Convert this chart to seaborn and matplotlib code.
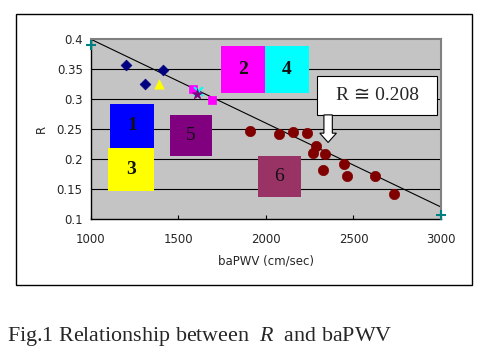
import matplotlib
matplotlib.use('Agg')
import matplotlib.pyplot as plt
from matplotlib.patches import Rectangle, FancyArrow
import seaborn as sns
import pandas as pd

# data
g1_x = [1200, 1310, 1410]
g1_y = [0.357, 0.325, 0.349]
g2_x = [1583, 1689]
g2_y = [0.317, 0.298]
g3_x = [1390]
g3_y = [0.326]
g4_x = [1609]
g4_y = [0.314]
g5_x = [1604]
g5_y = [0.308]
g6_x = [1909, 2076, 2152, 2232, 2284, 2270, 2339, 2324, 2448, 2461, 2623, 2733]
g6_y = [0.247, 0.242, 0.246, 0.244, 0.222, 0.211, 0.209, 0.182, 0.191, 0.171, 0.171, 0.141]
end_x = [1000, 3000]
end_y = [0.39, 0.106]
trend_x = [1000, 3000]
trend_y = [0.40, 0.12]

x_ticks = [1000, 1500, 2000, 2500, 3000]
y_ticks = [0.1, 0.15, 0.2, 0.25, 0.3, 0.35, 0.4]
r_text = 'R ≅ 0.208'

sns.set_theme(style="white")
plt.rcParams['font.family'] = ['DejaVu Sans']
plt.rcParams['mathtext.fontset'] = 'custom'
plt.rcParams['mathtext.it'] = 'Liberation Serif:italic'
plt.rcParams['mathtext.rm'] = 'Liberation Serif'

fig = plt.figure(figsize=(4.86, 3.56), dpi=100)
fig.patch.set_facecolor('white')
fig.patches.append(Rectangle((0.033, 0.199), 0.938, 0.762, transform=fig.transFigure,
                             fill=False, edgecolor='black', linewidth=1.0))
ax = fig.add_axes([0.1872, 0.3848, 0.7202, 0.5048])
ax.set_facecolor('#c4c4c4')

for yv in y_ticks[1:-1]:
    ax.axhline(yv, color='black', linewidth=0.8, zorder=1)

sns.lineplot(x=trend_x, y=trend_y, color='black', linewidth=0.8, ax=ax, zorder=2)

groups = [
    (g1_x, g1_y, 'D', '#000080', 30),
    (g2_x, g2_y, 's', '#ff00ff', 38),
    (g3_x, g3_y, '^', '#ffff00', 45),
    (g4_x, g4_y, 'x', '#00ffff', 40),
    (g5_x, g5_y, '*', '#800080', 60),
    (g6_x, g6_y, 'o', '#800000', 55),
    (end_x, end_y, '+', '#008080', 60),
]
for gx, gy, mk, col, sz in groups:
    df = pd.DataFrame({'baPWV': gx, 'R': gy})
    if mk in ('x', '+'):
        sns.scatterplot(data=df, x='baPWV', y='R', marker=mk, color=col, s=sz,
                        linewidth=1.5, ax=ax, zorder=4, clip_on=False)
    else:
        sns.scatterplot(data=df, x='baPWV', y='R', marker=mk, color=col, s=sz,
                        edgecolor=col, linewidth=0.5, ax=ax, zorder=4, clip_on=False)

# coloured group boxes
boxes = [
    ('1', 1108, 0.2183, 252, 0.074, '#0000ff', 'bold'),
    ('3', 1095, 0.146, 265, 0.0723, '#ffff00', 'bold'),
    ('2', 1743, 0.310, 251, 0.0793, '#ff00ff', 'bold'),
    ('4', 1994, 0.310, 252, 0.0793, '#00ffff', 'bold'),
    ('5', 1451, 0.2055, 239, 0.0683, '#800080', 'normal'),
    ('6', 1956, 0.136, 242, 0.0695, '#993366', 'normal'),
]
for lab, bx, by, bw, bh, col, wt in boxes:
    ax.add_patch(Rectangle((bx, by), bw, bh, facecolor=col, edgecolor='none', zorder=3))
    ax.text(bx + bw / 2, by + bh / 2, lab, ha='center', va='center', fontsize=14,
            fontweight=wt, family=['Liberation Serif'], color='#111111', zorder=3)

# R annotation box and arrow
ax.add_patch(Rectangle((2293, 0.2738), 686, 0.065, facecolor='white', edgecolor='black',
                       linewidth=0.8, zorder=5))
ax.text(2636, 0.3063, r_text, ha='center', va='center', fontsize=14,
        family=['Liberation Serif', 'DejaVu Sans'], zorder=6)
ax.add_patch(FancyArrow(2355, 0.2738, 0, -0.046, width=48, head_width=95,
                        head_length=0.0155, length_includes_head=True,
                        facecolor='white', edgecolor='black', linewidth=0.8, zorder=5))

ax.set_xlim(1000, 3000)
ax.set_ylim(0.1, 0.4)
ax.set_xticks(x_ticks)
ax.set_yticks(y_ticks)
ax.set_xticklabels([str(v) for v in x_ticks], fontsize=8.5)
ax.set_yticklabels([f'{v:g}' for v in y_ticks], fontsize=8.5)
ax.tick_params(axis='x', direction='in', length=3, width=0.8, color='black', pad=10, bottom=True)
ax.tick_params(axis='y', length=0, pad=6)
ax.set_xlabel('baPWV (cm/sec)', fontsize=8.5, labelpad=6)
ax.set_ylabel('R', fontsize=8.5, labelpad=6)
for side in ['left', 'bottom']:
    ax.spines[side].set_color('black')
    ax.spines[side].set_linewidth(1.0)
for side in ['top', 'right']:
    ax.spines[side].set_color('#808080')
    ax.spines[side].set_linewidth(1.5)

fig.text(0.014, 0.054, r'Fig.1 Relationship between  $\mathit{R}$  and baPWV', fontsize=15.8,
         family=['Liberation Serif'], ha='left', va='center')

fig.savefig('out.png', dpi=100)
